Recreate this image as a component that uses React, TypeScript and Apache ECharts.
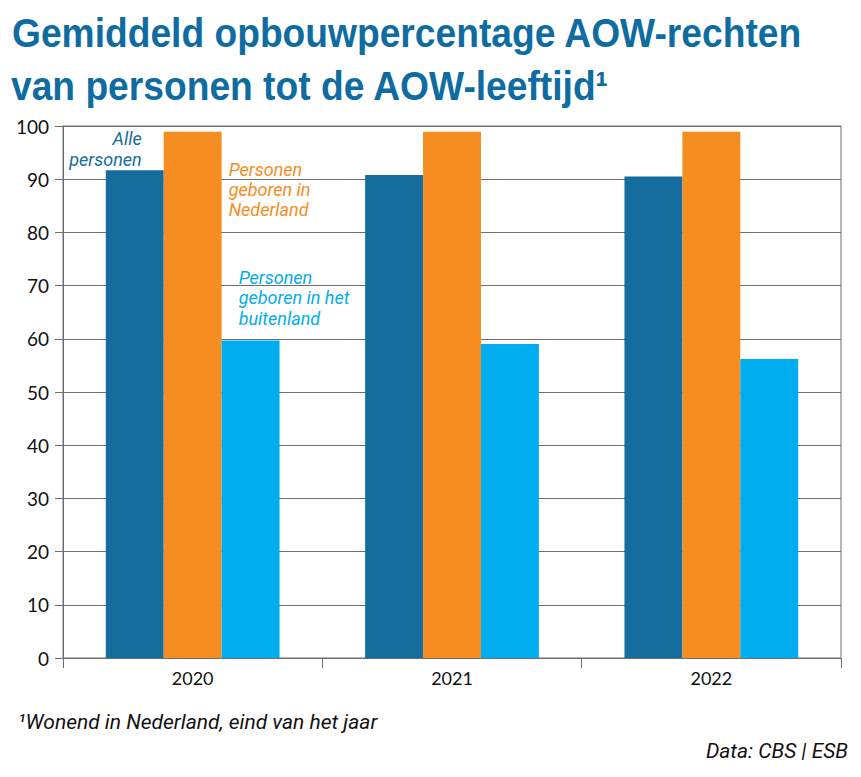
import React, { useEffect, useRef } from "react";
import * as echarts from "echarts";

const years = ["2020", "2021", "2022"];
const allePersonen = [91.7, 90.8, 90.5];
const geborenNL = [98.9, 98.9, 98.9];
const geborenBuitenland = [59.7, 59.0, 56.2];
const seriesNames = ["Alle personen", "Personen geboren in Nederland", "Personen geboren in het buitenland"];
const seriesLabels = ["Alle\npersonen", "Personen\ngeboren in\nNederland", "Personen\ngeboren in het\nbuitenland"];
const colors = ["#146d9c", "#f58d21", "#00adee"];

const titleLines = ["Gemiddeld opbouwpercentage AOW-rechten", "van personen tot de AOW-leeftijd\u00b9"];
const footnote = "\u00b9Wonend in Nederland, eind van het jaar";
const source = "Data: CBS | ESB";

const labelFont = "Roboto, 'Liberation Sans', sans-serif";
const tickFont = "Lato, 'Noto Sans', sans-serif";

export default function App() {
  const ref = useRef<HTMLDivElement>(null);
  useEffect(() => {
    document.body.style.margin = "0";
    if (!ref.current) return;
    const chart = echarts.init(ref.current, null, { renderer: "svg" });
    const labelCfg = [
      { position: ["100%", 0], align: "right", verticalAlign: "bottom", offset: [-22, 0], lineHeight: 21 },
      { position: ["100%", 0], align: "left", verticalAlign: "top", offset: [7, 28], lineHeight: 20 },
      { position: [0, 0], align: "left", verticalAlign: "bottom", offset: [17, -12], lineHeight: 20.5 },
    ];
    const dataSets = [allePersonen, geborenNL, geborenBuitenland];
    const series = dataSets.map((vals, i) => ({
      type: "bar",
      name: seriesNames[i],
      barGap: "0%",
      barCategoryGap: "33%",
      itemStyle: { color: colors[i] },
      data: vals.map((v, j) =>
        j === 0
          ? {
              value: v,
              label: {
                show: true,
                formatter: seriesLabels[i],
                color: colors[i],
                fontFamily: labelFont,
                fontStyle: "italic",
                fontSize: 18,
                ...labelCfg[i],
              },
            }
          : v
      ),
    }));
    chart.setOption({
      animation: false,
      grid: { left: 63, right: 20, top: 126, bottom: 119, show: true, borderColor: "#6e6e6e", borderWidth: 1 },
      xAxis: {
        type: "category",
        data: years,
        axisLine: { lineStyle: { color: "#6e6e6e", width: 1 } },
        axisTick: { show: true, length: 10, interval: 0, lineStyle: { color: "#6e6e6e" } },
        axisLabel: { color: "#111", fontSize: 18, fontFamily: tickFont, margin: 11 },
      },
      yAxis: {
        type: "value",
        min: 0,
        max: 100,
        interval: 10,
        axisLine: { show: true, lineStyle: { color: "#6e6e6e", width: 1 } },
        axisTick: { show: true, length: 8, lineStyle: { color: "#6e6e6e" } },
        splitLine: { lineStyle: { color: "#6e6e6e", width: 1 } },
        axisLabel: { color: "#111", fontSize: 19, fontFamily: tickFont, margin: 14 },
      },
      series,
      graphic: [
        {
          type: "text",
          x: 12,
          y: 33,
          scaleX: 0.93,
          style: {
            text: titleLines[0],
            fill: "#0f6ca0",
            font: "bold 40px 'Liberation Sans', Arial, sans-serif",
            verticalAlign: "middle",
          },
        },
        {
          type: "text",
          x: 11,
          y: 86,
          scaleX: 0.93,
          style: {
            text: titleLines[1],
            fill: "#0f6ca0",
            font: "bold 40px 'Liberation Sans', Arial, sans-serif",
            verticalAlign: "middle",
          },
        },
        {
          type: "text",
          x: 18,
          y: 722,
          style: { text: footnote, fill: "#111", font: "italic 21px " + labelFont, verticalAlign: "middle" },
        },
        {
          type: "text",
          x: 848,
          y: 751,
          style: { text: source, fill: "#111", font: "italic 21px " + labelFont, align: "right", verticalAlign: "middle" },
        },
      ],
    });
    return () => chart.dispose();
  }, []);
  return <div ref={ref} style={{ width: 861, height: 777 }} />;
}
